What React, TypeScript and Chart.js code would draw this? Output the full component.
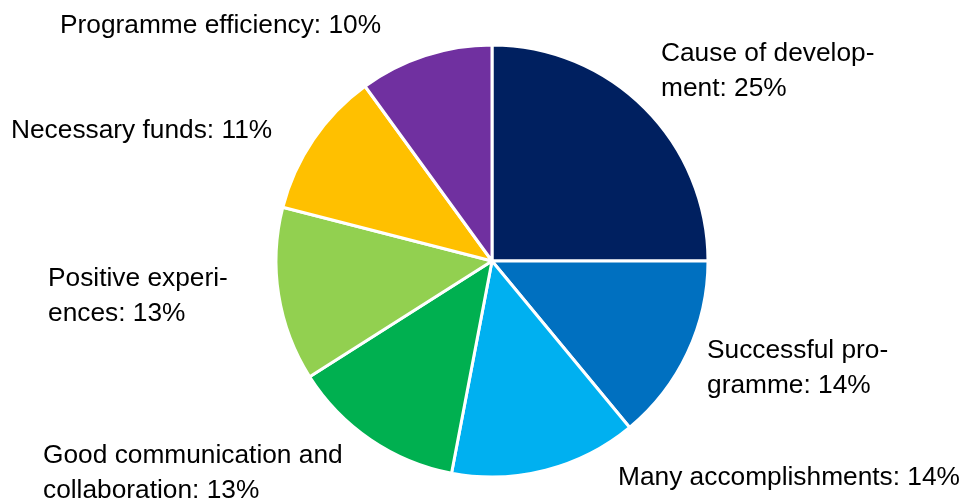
import React, { useEffect, useRef } from "react";
import { Chart, registerables } from "chart.js";

Chart.register(...registerables);

const categories = [
  "Cause of development",
  "Successful programme",
  "Many accomplishments",
  "Good communication and collaboration",
  "Positive experiences",
  "Necessary funds",
  "Programme efficiency",
];
const shares = [25, 14, 14, 13, 13, 11, 10];
const sliceColors = ["#002060", "#0070C0", "#00B0F0", "#00B050", "#92D050", "#FFC000", "#7030A0"];
const labelLines = [
  ["Cause of develop-", "ment: 25%"],
  ["Successful pro-", "gramme: 14%"],
  ["Many accomplishments: 14%"],
  ["Good communication and", "collaboration: 13%"],
  ["Positive experi-", "ences: 13%"],
  ["Necessary funds: 11%"],
  ["Programme efficiency: 10%"],
];
// label anchors (left x, first baseline y) in canvas pixels
const labelAnchors = [
  [661, 61],
  [707, 358],
  [618, 485],
  [43, 463],
  [48, 286],
  [11, 138],
  [60, 33],
];

const FONT = '26.3px "Liberation Sans", Arial, sans-serif';
const LINE_H = 35;

const labelPlugin = {
  id: "sliceLabels",
  afterDraw(chart: any) {
    const ctx = chart.ctx;
    ctx.save();
    ctx.font = FONT;
    ctx.fillStyle = "#000000";
    ctx.textAlign = "left";
    ctx.textBaseline = "alphabetic";
    labelLines.forEach((lines, i) => {
      const [x, y] = labelAnchors[i];
      lines.forEach((t, j) => ctx.fillText(t, x, y + j * LINE_H));
    });
    ctx.restore();
  },
};

export default function App() {
  const ref = useRef<HTMLCanvasElement | null>(null);
  useEffect(() => {
    document.body.style.margin = "0";
    const chart = new Chart(ref.current!, {
      type: "pie",
      data: {
        labels: categories,
        datasets: [
          {
            data: shares,
            backgroundColor: sliceColors,
            borderColor: "#ffffff",
            borderWidth: 3,
          },
        ],
      },
      options: {
        animation: false,
        responsive: false,
        radius: 216,
        layout: { padding: { top: 46, bottom: 23, left: 17, right: 0 } },
        plugins: {
          legend: { display: false },
          tooltip: { enabled: false },
        },
      } as any,
      plugins: [labelPlugin],
    });
    return () => chart.destroy();
  }, []);
  return (
    <div style={{ width: 967, height: 499, background: "#fff" }}>
      <canvas ref={ref} width={967} height={499} style={{ display: "block" }} />
    </div>
  );
}
